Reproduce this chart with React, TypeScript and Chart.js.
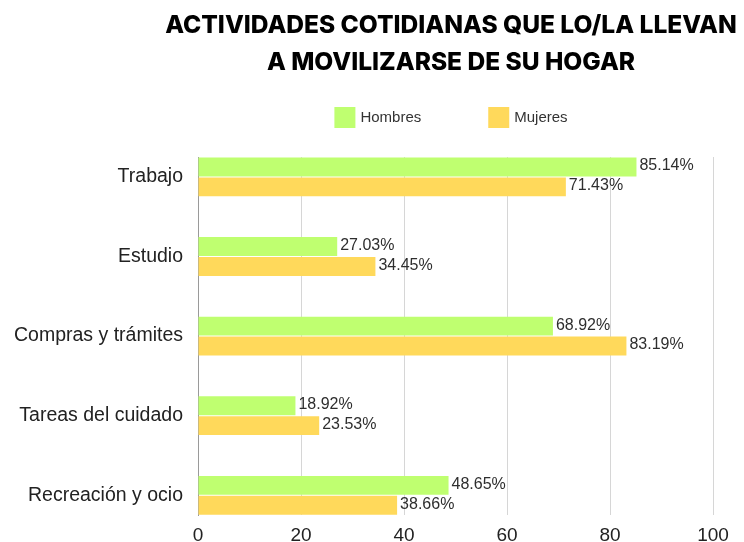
import React, { useEffect, useRef } from "react";
import { Chart, registerables } from "chart.js";

Chart.register(...registerables);

const categories = ["Trabajo", "Estudio", "Compras y trámites", "Tareas del cuidado", "Recreación y ocio"];
const seriesNames = ["Hombres", "Mujeres"];
const hombres = [85.14, 27.03, 68.92, 18.92, 48.65];
const mujeres = [71.43, 34.45, 83.19, 23.53, 38.66];
const xTicks = [0, 20, 40, 60, 80, 100];
const titleLines = ["ACTIVIDADES COTIDIANAS QUE LO/LA LLEVAN", "A MOVILIZARSE DE SU HOGAR"];

const GREEN = "#bfff70";
const YELLOW = "#ffd95b";
const FONT = "'Liberation Sans', Arial, sans-serif";
const TITLE_FONT = "Inter, 'Liberation Sans', Arial, sans-serif";
const TITLE_WEIGHT = 800;
const TITLE_WIDTH = 572;

const W = 902;
const H = 556;

function fitTitleSize(): number {
  const c = document.createElement("canvas");
  const ctx = c.getContext("2d");
  if (!ctx) return 24.6;
  ctx.font = `${TITLE_WEIGHT} 100px ${TITLE_FONT}`;
  const w = ctx.measureText(titleLines[0]).width;
  return w > 0 ? (100 * TITLE_WIDTH) / w : 24.6;
}

const valueLabels = {
  id: "valueLabels",
  afterDatasetsDraw(chart: any) {
    const ctx = chart.ctx;
    ctx.save();
    ctx.font = `16px ${FONT}`;
    ctx.fillStyle = "#2e2e2e";
    ctx.textAlign = "left";
    ctx.textBaseline = "middle";
    chart.data.datasets.forEach((ds: any, di: number) => {
      const meta = chart.getDatasetMeta(di);
      meta.data.forEach((bar: any, i: number) => {
        const v = ds.data[i].x as number;
        ctx.fillText(v.toFixed(2) + "%", bar.x + 3, bar.y - 1);
      });
    });
    ctx.restore();
  },
};

const customLegend = {
  id: "customLegend",
  afterDraw(chart: any) {
    const ctx = chart.ctx;
    ctx.save();
    ctx.font = `15px ${FONT}`;
    const box = 21;
    const gapText = 5;
    const gapItem = 67;
    const items = chart.data.datasets.map((ds: any) => ({
      text: ds.label as string,
      color: ds.backgroundColor as string,
      w: ctx.measureText(ds.label).width as number,
    }));
    const total =
      items.reduce((s: number, it: any) => s + box + gapText + it.w, 0) + gapItem * (items.length - 1);
    let x = chart.width / 2 - total / 2;
    const top = chart.chartArea.top - 50;
    ctx.textBaseline = "middle";
    ctx.textAlign = "left";
    items.forEach((it: any) => {
      ctx.fillStyle = it.color;
      ctx.fillRect(x, top, box, box);
      ctx.fillStyle = "#333333";
      ctx.fillText(it.text, x + box + gapText, top + box / 2);
      x += box + gapText + it.w + gapItem;
    });
    ctx.restore();
  },
};

export default function App() {
  const ref = useRef<HTMLCanvasElement | null>(null);

  useEffect(() => {
    if (!ref.current) return;
    const titleSize = fitTitleSize();
    const chart = new Chart(ref.current, {
      type: "bar",
      data: {
        datasets: [
          {
            label: seriesNames[0],
            data: hombres.map((v, i) => ({ x: v, y: i })),
            backgroundColor: GREEN,
            borderWidth: 0,
            xAxisID: "x",
            yAxisID: "y",
          },
          {
            label: seriesNames[1],
            data: mujeres.map((v, i) => ({ x: v, y: i })),
            backgroundColor: YELLOW,
            borderWidth: 0,
            xAxisID: "x",
            yAxisID: "y",
          },
        ],
      },
      options: {
        indexAxis: "y",
        responsive: false,
        animation: false,
        devicePixelRatio: 1,
        datasets: {
          bar: { categoryPercentage: 0.5, barPercentage: 0.95 },
        },
        layout: { padding: 0 },
        scales: {
          x: {
            type: "linear",
            position: "bottom",
            min: 0,
            max: 100,
            afterBuildTicks: (s: any) => {
              s.ticks = xTicks.map((v) => ({ value: v }));
            },
            ticks: {
              font: { family: FONT, size: 19 },
              color: "#222222",
              padding: 9,
            },
            grid: {
              color: (c: any) => (c.tick && c.tick.value === 0 ? "#9a9a9a" : "#d6d6d6"),
              drawTicks: false,
              lineWidth: 1,
            },
            border: { display: false },
          },
          y: {
            type: "linear",
            offset: false,
            min: -0.25,
            max: 4.25,
            reverse: true,
            afterBuildTicks: (s: any) => {
              s.ticks = categories.map((_, i) => ({ value: i }));
            },
            afterFit: (s: any) => {
              s.width = 198;
            },
            ticks: {
              callback: (v: any) => categories[v as number],
              font: { family: FONT, size: 19.5 },
              color: "#222222",
              padding: 15,
              autoSkip: false,
            },
            grid: { display: false, drawTicks: false },
            border: { display: true, color: "#9a9a9a", width: 1 },
          },
          spacerRight: {
            type: "linear",
            position: "right",
            display: true,
            afterFit: (s: any) => {
              s.width = 189;
            },
            ticks: { display: false },
            grid: { display: false, drawTicks: false },
            border: { display: false },
          },
        },
        plugins: {
          legend: { display: false },
          tooltip: { enabled: false },
          title: {
            display: true,
            text: titleLines,
            color: "#000000",
            font: { family: TITLE_FONT, size: titleSize, weight: TITLE_WEIGHT, lineHeight: 37 / titleSize },
            padding: { top: 7.5, bottom: 75.5 },
          },
        },
      } as any,
      plugins: [valueLabels, customLegend],
    });
    return () => chart.destroy();
  }, []);

  return (
    <div
      style={{
        position: "absolute",
        left: 0,
        top: 0,
        width: 744,
        height: 542,
        overflow: "hidden",
        background: "#ffffff",
      }}
    >
      <canvas ref={ref} width={W} height={H} style={{ display: "block" }} />
    </div>
  );
}
